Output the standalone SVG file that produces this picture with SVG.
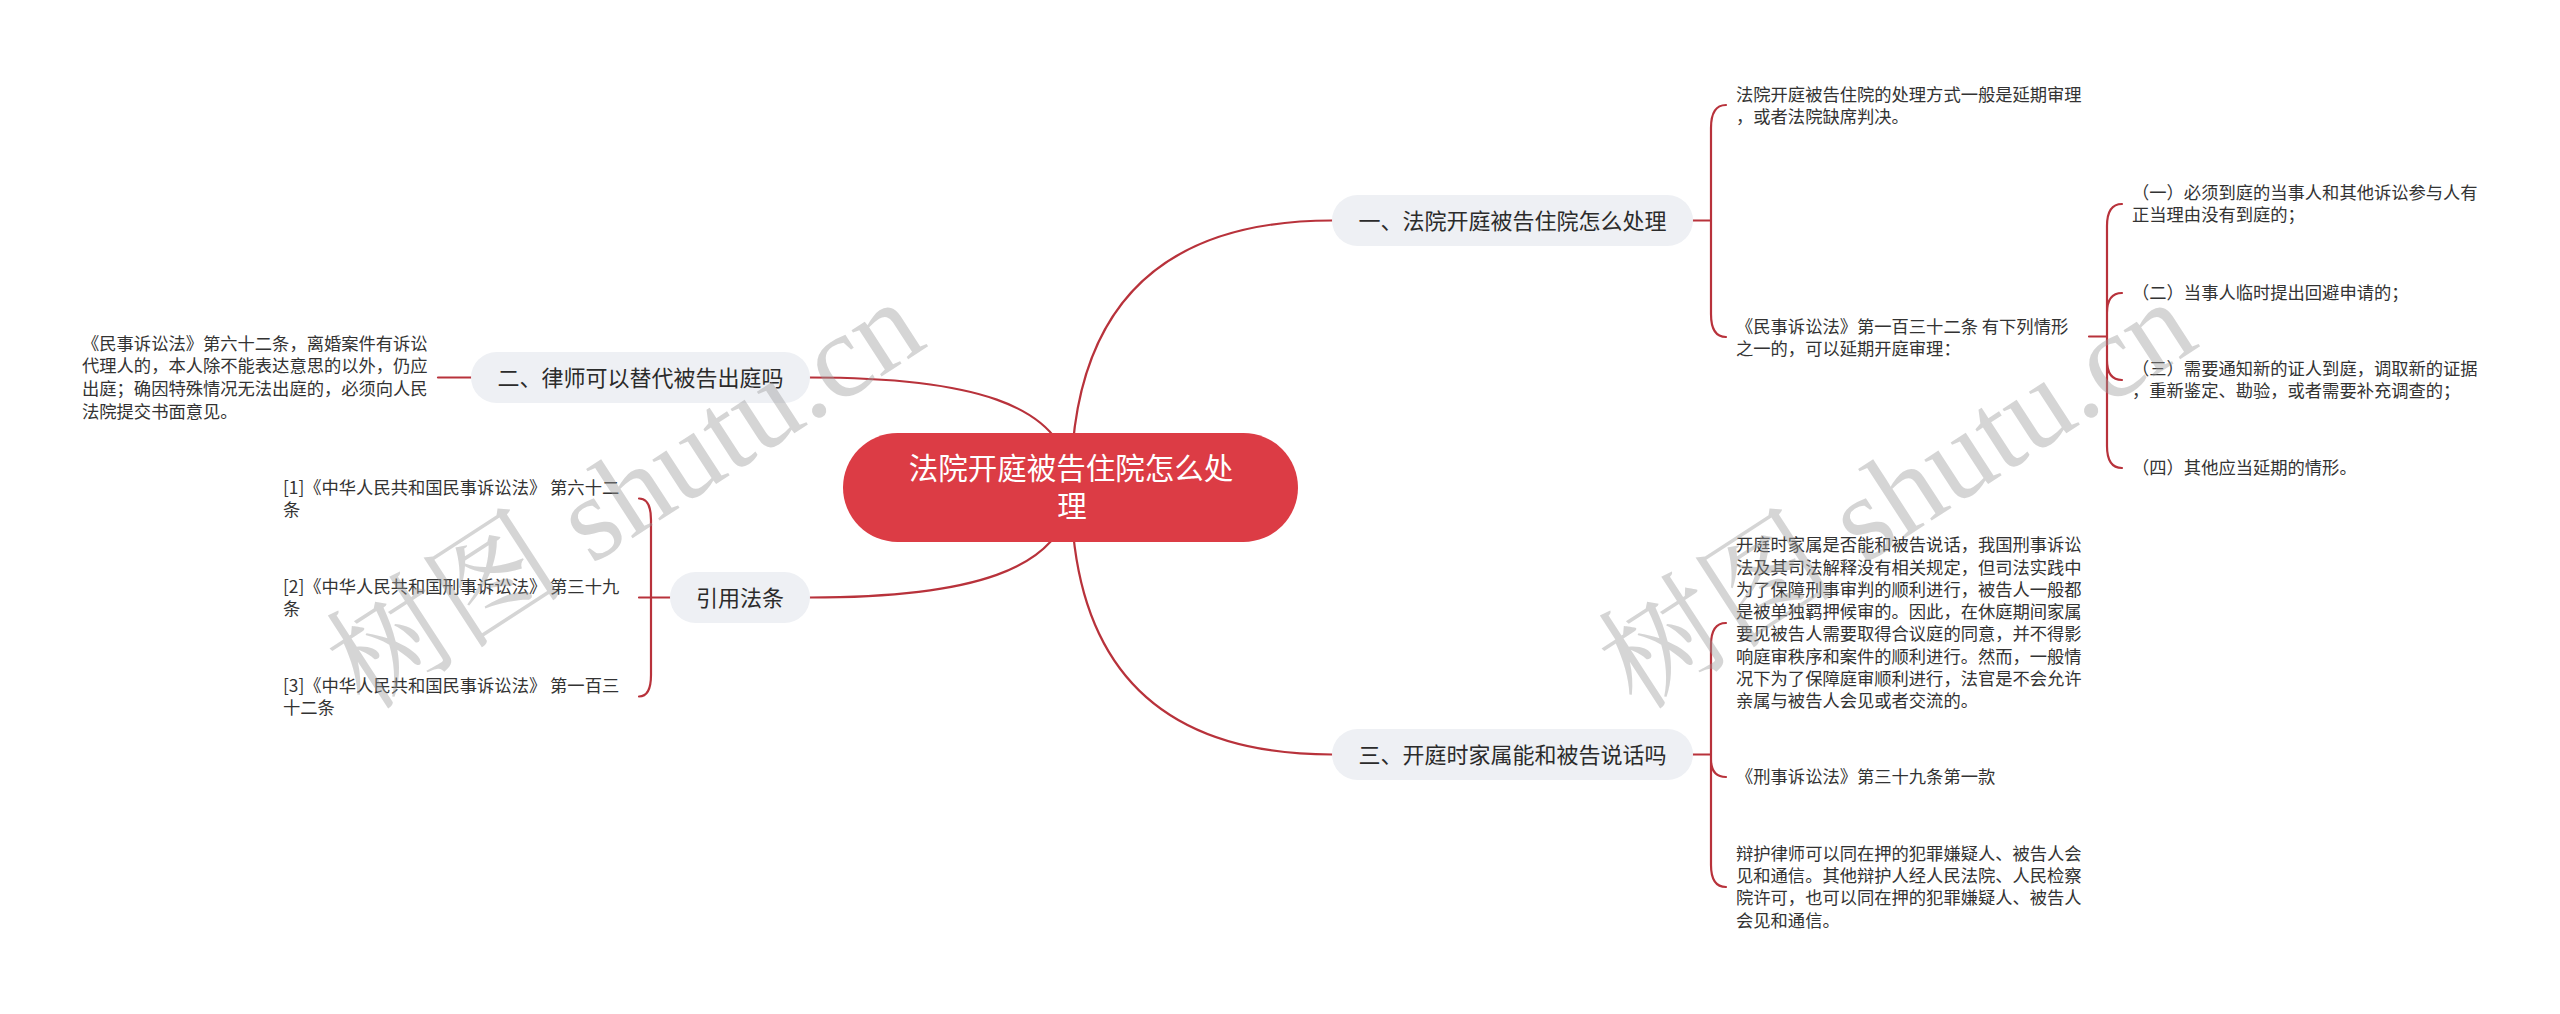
<svg xmlns="http://www.w3.org/2000/svg" width="2560" height="1014" viewBox="0 0 2560 1014">
<style>
.ln{fill:none;stroke:#b8323b;stroke-width:2.2;stroke-linecap:round}
.pill{fill:#eef0f4}
.nt{font-family:"Noto Sans CJK SC","Noto Sans",sans-serif;font-size:22px;fill:#2b2b2b;text-anchor:middle}
.ct{font-family:"Noto Sans CJK SC","Noto Sans",sans-serif;font-size:29.5px;fill:#ffffff;text-anchor:middle}
.lf{font-family:"Noto Sans CJK SC","Noto Sans",sans-serif;font-size:17.3px;fill:#333333}
.wm{font-family:"Liberation Serif","Noto Serif CJK SC","Noto Sans CJK SC",serif;font-size:120px;fill:#9a9a9a;fill-opacity:0.42}
</style>
<rect width="2560" height="1014" fill="#ffffff"/>
<g id="connectors">
<path class="ln" d="M1071,487 Q1071,220.5 1332,220.5"/>
<path class="ln" d="M1071,487 Q1071,754.5 1332,754.5"/>
<path class="ln" d="M810,377.5 C960,377.5 1071,400 1071,487"/>
<path class="ln" d="M810,597.5 C960,597.5 1071,574 1071,487"/>
<path class="ln" d="M1693,220.5 H1711 M1711,220.5 V128 Q1711,105 1726,105 M1711,220.5 V314 Q1711,337 1726,337"/>
<path class="ln" d="M2089,336.5 H2107 M2107,336.5 V226 Q2107,204 2122,204 M2107,336.5 V313 Q2107,293 2122,293 M2107,336.5 V360 Q2107,380 2122,380 M2107,336.5 V446 Q2107,468 2122,468"/>
<path class="ln" d="M1693,754.5 H1711 M1711,754.5 V645 Q1711,623 1726,623 M1711,754.5 V759 Q1711,777 1726,777 M1711,754.5 V865 Q1711,887 1726,887"/>
<path class="ln" d="M471,377.5 H438"/>
<path class="ln" d="M670,597.5 H639 M651,597.5 V520 Q651,498.5 639,498.5 M651,597.5 V675 Q651,696.5 639,696.5"/>
</g>
<g id="center">
<rect x="843" y="433" width="455" height="109" rx="54.5" fill="#dc3c45"/>
<text class="ct" x="1071" y="479">法院开庭被告住院怎么处</text>
<text class="ct" x="1072" y="517">理</text>
</g>
<g id="n1">
<rect class="pill" x="1332" y="195" width="361" height="51" rx="25.5"/>
<text class="nt" x="1512.5" y="228.5">一、法院开庭被告住院怎么处理</text>
</g>
<g id="n2">
<rect class="pill" x="471" y="352" width="339" height="51" rx="25.5"/>
<text class="nt" x="640.5" y="385.5">二、律师可以替代被告出庭吗</text>
</g>
<g id="n3">
<rect class="pill" x="1332" y="729" width="361" height="51" rx="25.5"/>
<text class="nt" x="1512.5" y="762.5">三、开庭时家属能和被告说话吗</text>
</g>
<g id="n4">
<rect class="pill" x="670" y="572" width="140" height="51" rx="25.5"/>
<text class="nt" x="740" y="605.5">引用法条</text>
</g>
<g id="n1a">
<text class="lf" x="1736" y="100.5">法院开庭被告住院的处理方式一般是延期审理</text>
<text class="lf" x="1736" y="123">，或者法院缺席判决。</text>
</g>
<g id="n1b">
<text class="lf" x="1736" y="333">《民事诉讼法》第一百三十二条 有下列情形</text>
<text class="lf" x="1736" y="355">之一的，可以延期开庭审理：</text>
</g>
<g id="n1b1">
<text class="lf" x="2132" y="199">（一）必须到庭的当事人和其他诉讼参与人有</text>
<text class="lf" x="2132" y="221.4">正当理由没有到庭的；</text>
</g>
<g id="n1b2">
<text class="lf" x="2132" y="299.2">（二）当事人临时提出回避申请的；</text>
</g>
<g id="n1b3">
<text class="lf" x="2132" y="375">（三）需要通知新的证人到庭，调取新的证据</text>
<text class="lf" x="2132" y="397.4">，重新鉴定、勘验，或者需要补充调查的；</text>
</g>
<g id="n1b4">
<text class="lf" x="2132" y="474.2">（四）其他应当延期的情形。</text>
</g>
<g id="n2a">
<text class="lf" x="82" y="349.8">《民事诉讼法》第六十二条，离婚案件有诉讼</text>
<text class="lf" x="82" y="372.4">代理人的，本人除不能表达意思的以外，仍应</text>
<text class="lf" x="82" y="395">出庭；确因特殊情况无法出庭的，必须向人民</text>
<text class="lf" x="82" y="417.6">法院提交书面意见。</text>
</g>
<g id="n3a">
<text class="lf" x="1736" y="551.2">开庭时家属是否能和被告说话，我国刑事诉讼</text>
<text class="lf" x="1736" y="573.5">法及其司法解释没有相关规定，但司法实践中</text>
<text class="lf" x="1736" y="595.8">为了保障刑事审判的顺利进行，被告人一般都</text>
<text class="lf" x="1736" y="618.1">是被单独羁押候审的。因此，在休庭期间家属</text>
<text class="lf" x="1736" y="640.4">要见被告人需要取得合议庭的同意，并不得影</text>
<text class="lf" x="1736" y="662.7">响庭审秩序和案件的顺利进行。然而，一般情</text>
<text class="lf" x="1736" y="685">况下为了保障庭审顺利进行，法官是不会允许</text>
<text class="lf" x="1736" y="707.3">亲属与被告人会见或者交流的。</text>
</g>
<g id="n3b">
<text class="lf" x="1736" y="783.2">《刑事诉讼法》第三十九条第一款</text>
</g>
<g id="n3c">
<text class="lf" x="1736" y="859.6">辩护律师可以同在押的犯罪嫌疑人、被告人会</text>
<text class="lf" x="1736" y="882">见和通信。其他辩护人经人民法院、人民检察</text>
<text class="lf" x="1736" y="904.4">院许可，也可以同在押的犯罪嫌疑人、被告人</text>
<text class="lf" x="1736" y="926.8">会见和通信。</text>
</g>
<g id="r1">
<text class="lf" x="283" y="493.5">[1]《中华人民共和国民事诉讼法》 第六十二</text>
<text class="lf" x="283" y="515.9">条</text>
</g>
<g id="r2">
<text class="lf" x="283" y="592.5">[2]《中华人民共和国刑事诉讼法》 第三十九</text>
<text class="lf" x="283" y="614.9">条</text>
</g>
<g id="r3">
<text class="lf" x="283" y="691.5">[3]《中华人民共和国民事诉讼法》 第一百三</text>
<text class="lf" x="283" y="713.9">十二条</text>
</g>
<g id="watermarks">
<text class="wm" transform="translate(365,712) rotate(-33)">树图 shutu.cn</text>
<text class="wm" transform="translate(1637,712) rotate(-33)">树图 shutu.cn</text>
</g>
</svg>
